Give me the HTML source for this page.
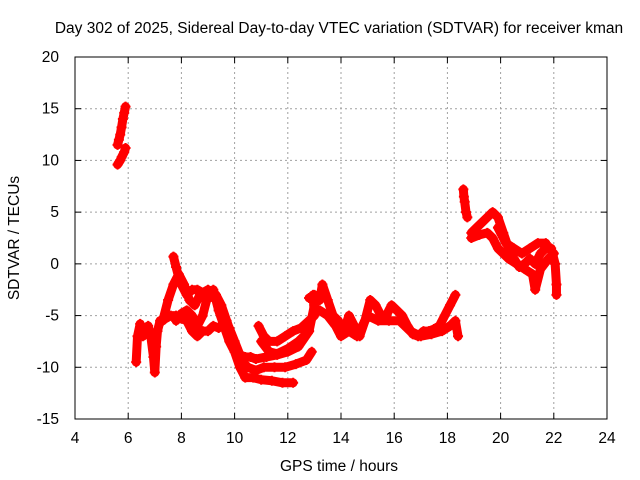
<!DOCTYPE html>
<html><head><meta charset="utf-8"><style>
body{margin:0;background:#fff}
svg{display:block;font-family:"Liberation Sans",sans-serif}
</style></head><body>
<svg id="chart" width="640" height="480">
<text x="339" y="33" text-anchor="middle" font-size="15.5">Day 302 of 2025, Sidereal Day-to-day VTEC variation (SDTVAR) for receiver kman</text>
<text x="339" y="471" text-anchor="middle" font-size="15.5">GPS time / hours</text>
<text transform="translate(19,238) rotate(-90)" text-anchor="middle" font-size="15.5">SDTVAR / TECUs</text>
<g id="grid"></g><g id="marks"></g><g id="axes"></g>
</svg>
<script>
const xTicks=[4,6,8,10,12,14,16,18,20,22,24];
const yTicks=[20,15,10,5,0,-5,-10,-15];
const trackA=[[5.6,11.5],[5.65,12],[5.7,12.5],[5.75,13.2],[5.8,14],[5.85,14.6],[5.9,15.2]];
const trackB=[[5.6,9.6],[5.7,10],[5.75,10.3],[5.85,10.8],[5.9,11.2]];
const trackC=[[6.3,-9.5],[6.35,-7],[6.45,-5.8],[6.55,-7],[6.65,-6.5],[6.75,-6],[6.85,-7],[6.95,-9],[7.0,-10.5],[7.05,-8],[7.1,-6.5],[7.2,-5.5],[7.4,-5.3],[7.6,-5],[7.8,-5],[8.0,-5.3],[8.2,-5.5],[8.4,-6.5],[8.6,-7],[8.8,-6.5],[9.0,-6.5],[9.2,-6],[9.4,-6.2],[9.6,-5.8],[9.8,-6.2],[10.0,-7.5],[10.2,-8.8],[10.4,-9],[10.6,-9],[10.8,-9.2],[11.2,-9],[11.6,-8.8],[12.0,-8.5],[12.4,-8],[12.8,-6.5]];
const trackD=[[7.3,-5.5],[7.5,-3.5],[7.7,-2],[7.9,-1],[8.1,-2],[8.3,-3.5],[8.5,-4],[8.7,-3],[8.9,-3.5],[9.1,-3.2],[9.3,-3],[9.5,-4],[9.7,-5.5],[9.9,-7],[10.1,-8.5],[10.3,-9.5],[10.5,-10],[10.8,-10.3],[11.1,-10],[11.5,-10],[11.9,-10],[12.3,-9.7],[12.7,-9.3],[12.9,-8.5]];
const trackE=[[7.7,0.7],[7.8,-0.3],[7.9,-1.3],[8.0,-2],[8.2,-3],[8.4,-2.5],[8.6,-2.5],[8.8,-2.8],[9.0,-2.5],[9.2,-2.8]];
const trackF=[[7.8,-5.5],[8.0,-4.8],[8.2,-4.5],[8.4,-5],[8.6,-6],[8.8,-5],[9.0,-3],[9.2,-2.5],[9.4,-4.5],[9.6,-6],[9.8,-7.5],[10.0,-8.5],[10.2,-10],[10.4,-11],[10.7,-11],[11.0,-11.2],[11.4,-11.3],[11.8,-11.5],[12.2,-11.5]];
const trackG=[[10.9,-6],[11.1,-7],[11.3,-7.5],[11.6,-7.5],[11.9,-7],[12.2,-6.5],[12.5,-6.2],[12.8,-5.5],[13.0,-5],[12.95,-3]];
const trackH=[[11.0,-7.5],[11.3,-8.5],[11.6,-8.7],[12.0,-8.2],[12.4,-7.5],[12.8,-6.5],[13.0,-4]];
const trackI=[[12.8,-3.3],[13.0,-3],[13.2,-3.5],[13.3,-2],[13.5,-3.5],[13.7,-5],[13.9,-5.5],[14.1,-6.5],[14.3,-5],[14.5,-6],[14.7,-7],[14.9,-5.5],[15.1,-3.5],[15.3,-4],[15.5,-5],[15.7,-5],[15.9,-4],[16.1,-4.5],[16.3,-5],[16.5,-6],[16.7,-6.8],[16.9,-7],[17.1,-6.5],[17.3,-6.5],[17.5,-6.3],[17.7,-6],[17.9,-5],[18.1,-4],[18.3,-3]];
const trackJ=[[13.2,-4.5],[13.5,-5],[13.8,-6],[14.0,-7],[14.3,-6.5],[14.6,-7],[15.0,-5],[15.4,-5.5],[15.8,-5.5],[16.2,-5.5],[16.6,-6.5],[17.0,-7],[17.4,-6.8],[17.8,-6.5],[18.1,-6],[18.3,-5.5],[18.4,-7]];
const trackK=[[18.6,7.2],[18.62,6.5],[18.65,6],[18.7,5],[18.75,4.5]];
const trackL=[[18.9,3],[19.1,3.5],[19.3,4],[19.5,4.5],[19.7,5],[19.9,4.5],[20.1,3],[20.3,1.5],[20.5,0.5],[20.7,-0.3],[20.9,0],[21.1,0.5],[21.3,0],[21.5,1],[21.7,1.5],[21.9,1.5],[22.05,0],[22.1,-2],[22.1,-3]];
const trackM=[[18.9,2.5],[19.2,2.8],[19.5,3],[19.7,2.5],[19.9,1.5],[20.1,1],[20.3,0.5],[20.6,0],[20.9,-0.5],[21.2,-1],[21.3,-2.5],[21.5,-0.5],[21.8,0.5],[22.0,1]];
const trackN=[[19.9,3.5],[20.2,2],[20.5,1.5],[20.8,1],[21.1,1.5],[21.4,2],[21.7,2]];
const tracks=[trackA,trackB,trackC,trackD,trackE,trackF,trackG,trackH,trackI,trackJ,trackK,trackL,trackM,trackN];

const L=75,R=607,T=57,B=419,xmin=4,xmax=24,ymin=-15,ymax=20;
function sx(v){return L+(v-xmin)/(xmax-xmin)*(R-L);}
function sy(v){return B-(v-ymin)/(ymax-ymin)*(B-T);}
const NS='http://www.w3.org/2000/svg';
function mk(tag,attrs,parent){const e=document.createElementNS(NS,tag);for(const k in attrs)e.setAttribute(k,attrs[k]);parent.appendChild(e);return e;}
const grid=document.getElementById('grid'),axes=document.getElementById('axes'),marks=document.getElementById('marks');
xTicks.forEach(t=>{const x=sx(t);
 if(t>xmin&&t<xmax){const g=mk('line',{x1:x,x2:x,y1:T,y2:B,stroke:'#a0a0a0','stroke-dasharray':'2,3'},grid);
 
 }
 mk('line',{x1:x,x2:x,y1:B,y2:B-6,stroke:'#000'},axes);
 mk('line',{x1:x,x2:x,y1:T,y2:T+6,stroke:'#000'},axes);
 const tx=mk('text',{x:x,y:B+24,'text-anchor':'middle','font-size':15.5},axes);tx.textContent=t;
 
 
});
yTicks.forEach(t=>{const y=sy(t);
 if(t>ymin&&t<ymax){const g=mk('line',{x1:L,x2:R,y1:y,y2:y,stroke:'#a0a0a0','stroke-dasharray':'2,3'},grid);
 
 }
 mk('line',{x1:L,x2:L+6,y1:y,y2:y,stroke:'#000'},axes);
 mk('line',{x1:R,x2:R-6,y1:y,y2:y,stroke:'#000'},axes);
 const tx=mk('text',{x:L-16,y:y+5,'text-anchor':'end','font-size':15.5},axes);tx.textContent=t;
 
 
});
const fr=mk('rect',{x:L,y:T,width:R-L,height:B-T,fill:'none',stroke:'#000'},axes);


tracks.forEach(tr=>{
 const pl=mk('polyline',{points:tr.map(p=>sx(p[0])+','+sy(p[1])).join(' '),fill:'none',stroke:'#ff0000','stroke-width':9,'stroke-linejoin':'round','stroke-linecap':'round'},marks);
 
 
 tr.forEach(p=>{const x=sx(p[0]),y=sy(p[1]);
  const m=mk('path',{d:`M${x-5},${y}H${x+5}M${x},${y-5}V${y+5}`,stroke:'#ff0000','stroke-width':2},marks);
  
  
 });
});
</script>
</body></html>
